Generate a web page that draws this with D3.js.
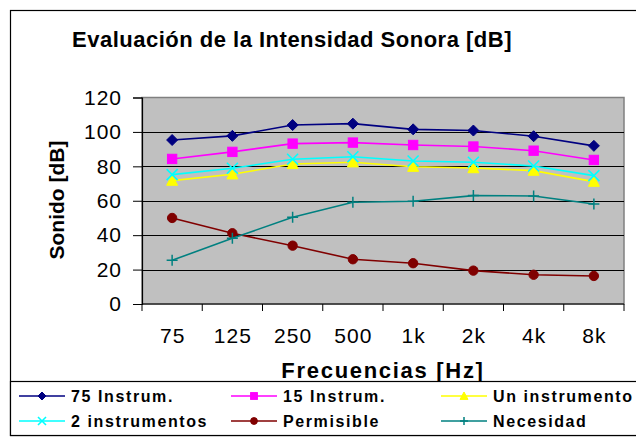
<!DOCTYPE html>
<html>
<head>
<meta charset="utf-8">
<script src="https://cdn.jsdelivr.net/npm/d3@7"></script>
<style>
  body { margin: 0; background: #fff; }
  svg { display: block; font-family: "Liberation Sans", Arial, sans-serif; }
</style>
</head>
<body>
<svg id="chart" width="636" height="437"></svg>
<script>
// data
var frequencies = ["75", "125", "250", "500", "1k", "2k", "4k", "8k"];
var yTicks = [0, 20, 40, 60, 80, 100, 120];

var instrum75   = [95.3, 97.7, 104, 104.8, 101.5, 100.8, 97.5, 91.9];
var instrum15   = [84.3, 88.4, 93.2, 93.8, 92.4, 91.5, 89.1, 83.7];
var unInstr     = [71.7, 75.4, 81.4, 82.4, 79.8, 79, 77.5, 71.1];
var dosInstr    = [75.2, 78.9, 84.1, 85.6, 83.1, 82.4, 80.2, 74.6];
var permisible  = [50, 41.1, 33.9, 26, 23.7, 19.4, 17, 16.3];
var necesidad   = [25.4, 38.2, 50.4, 59.1, 59.7, 63, 62.8, 58.1];

var seriesNames = ["75 Instrum.", "15 Instrum.", "Un instrumento", "2 instrumentos", "Permisible", "Necesidad"];
var seriesValues = [instrum75, instrum15, unInstr, dosInstr, permisible, necesidad];
var seriesColors = ["#000080", "#ff00ff", "#ffff00", "#00ffff", "#800000", "#008080"];
var seriesMarkers = ["diamond", "square", "triangle", "x", "circle", "plus"];

var svg = d3.select("svg#chart");

var plotLeft = 142, plotRight = 624, plotTop = 97.5, plotBottom = 304;

var x = d3.scaleBand().domain(frequencies).range([plotLeft, plotRight]).padding(0);
var y = d3.scaleLinear().domain([0, 120]).range([plotBottom, plotTop]);

// outer chart border
svg.append("rect")
    .attr("x", 10.5).attr("y", 10.5)
    .attr("width", 700).attr("height", 425)
    .attr("fill", "none").attr("stroke", "#000").attr("stroke-width", 1.2);

// title
svg.append("text")
    .attr("x", 292).attr("y", 46.5)
    .attr("text-anchor", "middle")
    .style("font-size", "22px").style("font-weight", "bold")
    .style("letter-spacing", "0.5px")
    .text("Evaluación de la Intensidad Sonora [dB]");

// plot background
svg.append("rect")
    .attr("x", plotLeft).attr("y", plotTop)
    .attr("width", plotRight - plotLeft).attr("height", plotBottom - plotTop)
    .attr("fill", "#c0c0c0").attr("stroke", "#808080").attr("stroke-width", 1.5);

// gridlines
svg.append("g")
    .selectAll("line")
    .data(yTicks.filter(function (d) { return d > 0 && d < 120; }))
    .enter().append("line")
    .attr("x1", plotLeft).attr("x2", plotRight)
    .attr("y1", function (d) { return Math.round(y(d)) + 0.5; })
    .attr("y2", function (d) { return Math.round(y(d)) + 0.5; })
    .attr("stroke", "#000").attr("stroke-width", 1);

// y axis
var yAxis = d3.axisLeft(y).tickValues(yTicks).tickSize(9).tickPadding(11);
var yGroup = svg.append("g").attr("transform", "translate(" + plotLeft + ",0)").call(yAxis);
yGroup.select(".domain").attr("stroke", "#000").attr("stroke-width", 1.2);
yGroup.selectAll(".tick line").attr("stroke", "#000");
yGroup.selectAll("text")
    .style("font-size", "21px").style("letter-spacing", "1px")
    .style("font-family", "Liberation Sans, Arial, sans-serif").attr("fill", "#000");

// x axis: labels at category centers, ticks on boundaries
var xAxis = d3.axisBottom(x).tickSize(0);
var xGroup = svg.append("g").attr("transform", "translate(0," + plotBottom + ")").call(xAxis);
xGroup.select(".domain").remove();
xGroup.selectAll("text")
    .attr("y", 39).attr("dy", null).attr("dx", "0.5")
    .style("font-size", "21px").style("letter-spacing", "1px")
    .style("font-family", "Liberation Sans, Arial, sans-serif").attr("fill", "#000");

var boundaries = frequencies.map(function (d) { return x(d); }).concat([plotRight]);
svg.append("line")
    .attr("x1", plotLeft).attr("x2", plotRight)
    .attr("y1", plotBottom).attr("y2", plotBottom)
    .attr("stroke", "#000").attr("stroke-width", 1.2);
svg.append("g").selectAll("line")
    .data(boundaries)
    .enter().append("line")
    .attr("x1", function (d) { return d; }).attr("x2", function (d) { return d; })
    .attr("y1", plotBottom).attr("y2", plotBottom + 7)
    .attr("stroke", "#000");

// axis titles
svg.append("text")
    .attr("x", (plotLeft + plotRight) / 2).attr("y", 378)
    .attr("text-anchor", "middle")
    .style("font-size", "22px").style("font-weight", "bold")
    .style("letter-spacing", "1.7px")
    .text("Frecuencias [Hz]");

svg.append("text")
    .attr("transform", "translate(64,200) rotate(-90)")
    .attr("text-anchor", "middle")
    .style("font-size", "21px").style("font-weight", "bold")
    .text("Sonido [dB]");

// markers
function drawMarker(g, type, color, s) {
    if (type === "diamond") {
        g.append("path").attr("d", "M0," + (-s) + "L" + s + ",0L0," + s + "L" + (-s) + ",0Z")
            .attr("fill", color).attr("stroke", color);
    } else if (type === "square") {
        g.append("rect").attr("x", -s * 0.85).attr("y", -s * 0.85)
            .attr("width", s * 1.7).attr("height", s * 1.7)
            .attr("fill", color).attr("stroke", color);
    } else if (type === "triangle") {
        g.append("path").attr("d", "M0," + (-s) + "L" + s + "," + (s * 0.85) + "L" + (-s) + "," + (s * 0.85) + "Z")
            .attr("fill", color).attr("stroke", color);
    } else if (type === "x") {
        g.append("path").attr("d", "M" + (-s) + "," + (-s) + "L" + s + "," + s + "M" + (-s) + "," + s + "L" + s + "," + (-s))
            .attr("stroke", color).attr("stroke-width", 1.6).attr("fill", "none");
    } else if (type === "circle") {
        g.append("circle").attr("r", s * 0.85).attr("fill", color).attr("stroke", color);
    } else if (type === "plus") {
        g.append("path").attr("d", "M" + (-s) + ",0L" + s + ",0M0," + (-s) + "L0," + s)
            .attr("stroke", color).attr("stroke-width", 1.5).attr("fill", "none");
    }
}

var line = d3.line()
    .x(function (d, i) { return x(frequencies[i]) + x.bandwidth() / 2; })
    .y(function (d) { return y(d); });

seriesValues.forEach(function (vals, k) {
    var g = svg.append("g");
    g.append("path").datum(vals)
        .attr("d", line)
        .attr("fill", "none")
        .attr("stroke", seriesColors[k])
        .attr("stroke-width", 1.6);
    vals.forEach(function (v, i) {
        var m = g.append("g")
            .attr("transform", "translate(" + (x(frequencies[i]) + x.bandwidth() / 2) + "," + y(v) + ")");
        drawMarker(m, seriesMarkers[k], seriesColors[k], 5.5);
    });
});

// legend
svg.append("rect")
    .attr("x", 10.5).attr("y", 381.5)
    .attr("width", 700).attr("height", 54)
    .attr("fill", "#fff").attr("stroke", "#000").attr("stroke-width", 1.2);

var legendCols = [19, 231, 441];
var legendRows = [396, 421];
seriesNames.forEach(function (name, k) {
    var cx = legendCols[k % 3], cy = legendRows[Math.floor(k / 3)];
    var g = svg.append("g").attr("transform", "translate(" + cx + "," + cy + ")");
    g.append("line").attr("x1", 0).attr("x2", 46).attr("y1", 0).attr("y2", 0)
        .attr("stroke", seriesColors[k]).attr("stroke-width", 1.5);
    var m = g.append("g").attr("transform", "translate(23,0)");
    drawMarker(m, seriesMarkers[k], seriesColors[k], 4);
    g.append("text")
        .attr("x", 52).attr("y", 5.5)
        .style("font-size", "16px").style("font-weight", "bold")
        .style("letter-spacing", "1.6px")
        .text(name);
});
</script>
</body>
</html>
